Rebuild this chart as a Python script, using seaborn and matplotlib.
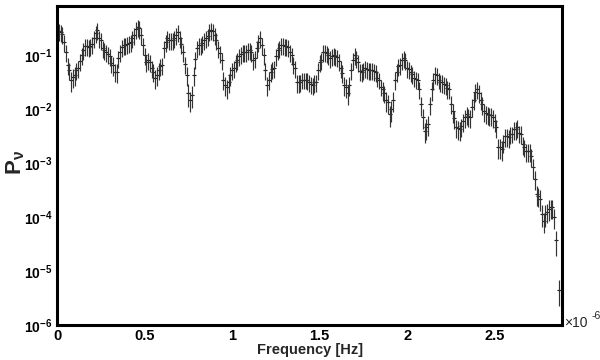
import numpy as np
import pandas as pd
import matplotlib
matplotlib.use("Agg")
import matplotlib.pyplot as plt
import seaborn as sns
from matplotlib.ticker import FuncFormatter, LogLocator, MultipleLocator, NullFormatter

# Frequency bins (units of 1e-6 Hz), odd-hundredth bins
freq_odd = [0.01, 0.03, 0.05, 0.07, 0.09, 0.11, 0.13, 0.15, 0.17, 0.19,
            0.21, 0.23, 0.25, 0.27, 0.29, 0.31, 0.33, 0.35, 0.37, 0.39,
            0.41, 0.43, 0.45, 0.47, 0.49, 0.51, 0.53, 0.55, 0.57, 0.59,
            0.61, 0.63, 0.65, 0.67, 0.69, 0.71, 0.73, 0.75, 0.77, 0.79,
            0.81, 0.83, 0.85, 0.87, 0.89, 0.91, 0.93, 0.95, 0.97, 0.99,
            1.01, 1.03, 1.05, 1.07, 1.09, 1.11, 1.13, 1.15, 1.17, 1.19,
            1.21, 1.23, 1.25, 1.27, 1.29, 1.31, 1.33, 1.35, 1.37, 1.39,
            1.41, 1.43, 1.45, 1.47, 1.49, 1.51, 1.53, 1.55, 1.57, 1.59,
            1.61, 1.63, 1.65, 1.67, 1.69, 1.71, 1.73, 1.75, 1.77, 1.79,
            1.81, 1.83, 1.85, 1.87, 1.89, 1.91, 1.93, 1.95, 1.97, 1.99,
            2.01, 2.03, 2.05, 2.07, 2.09, 2.11, 2.13, 2.15, 2.17, 2.19,
            2.21, 2.23, 2.25, 2.27, 2.29, 2.31, 2.33, 2.35, 2.37, 2.39,
            2.41, 2.43, 2.45, 2.47, 2.49, 2.51, 2.53, 2.55, 2.57, 2.59,
            2.61, 2.63, 2.65, 2.67, 2.69, 2.71, 2.73, 2.75, 2.77, 2.79,
            2.81, 2.83, 2.85, 2.87]

power_odd = [0.275, 0.243, 0.114, 0.053, 0.039, 0.053, 0.078, 0.124, 0.146, 0.146,
             0.205, 0.288, 0.188, 0.124, 0.104, 0.071, 0.049, 0.088, 0.140, 0.153,
             0.166, 0.205, 0.300, 0.310, 0.153, 0.074, 0.074, 0.049, 0.043, 0.063,
             0.134, 0.205, 0.188, 0.205, 0.264, 0.159, 0.068, 0.020, 0.0185, 0.085,
             0.153, 0.166, 0.205, 0.275, 0.275, 0.188, 0.109, 0.035, 0.025, 0.043,
             0.058, 0.081, 0.104, 0.114, 0.124, 0.114, 0.088, 0.173, 0.153, 0.053,
             0.035, 0.055, 0.096, 0.134, 0.153, 0.146, 0.114, 0.068, 0.031, 0.032,
             0.035, 0.034, 0.029, 0.031, 0.053, 0.081, 0.114, 0.100, 0.096, 0.096,
             0.078, 0.047, 0.026, 0.028, 0.081, 0.088, 0.051, 0.053, 0.055, 0.053,
             0.051, 0.038, 0.026, 0.020, 0.0132, 0.0098, 0.035, 0.063, 0.081, 0.081,
             0.055, 0.045, 0.036, 0.023, 0.0070, 0.0046, 0.0121, 0.034, 0.043, 0.032,
             0.029, 0.024, 0.0126, 0.0067, 0.0044, 0.0048, 0.0070, 0.0073, 0.0111, 0.021,
             0.020, 0.0121, 0.0083, 0.0076, 0.0070, 0.0046, 0.00197, 0.0024, 0.0031, 0.0034,
             0.0042, 0.0046, 0.0035, 0.00197, 0.00166, 0.00135, 0.00051, 0.00025, 0.000116, 0.000116,
             0.000143, 0.000150, 3.7e-5, 4.5e-6]

err_odd = [0.095, 0.085, 0.040, 0.019, 0.015, 0.019, 0.027, 0.043, 0.051, 0.051,
           0.072, 0.10, 0.066, 0.043, 0.036, 0.025, 0.018, 0.031, 0.049, 0.054,
           0.058, 0.072, 0.105, 0.11, 0.054, 0.026, 0.026, 0.018, 0.016, 0.022,
           0.047, 0.072, 0.066, 0.072, 0.092, 0.056, 0.024, 0.009, 0.008, 0.030,
           0.054, 0.058, 0.072, 0.096, 0.096, 0.066, 0.038, 0.013, 0.010, 0.016,
           0.020, 0.028, 0.036, 0.040, 0.043, 0.040, 0.031, 0.061, 0.054, 0.019,
           0.013, 0.019, 0.034, 0.047, 0.054, 0.051, 0.040, 0.024, 0.011, 0.011,
           0.012, 0.012, 0.010, 0.011, 0.019, 0.028, 0.040, 0.035, 0.034, 0.034,
           0.027, 0.017, 0.010, 0.011, 0.028, 0.031, 0.018, 0.019, 0.019, 0.019,
           0.018, 0.013, 0.009, 0.007, 0.005, 0.004, 0.013, 0.022, 0.028, 0.028,
           0.019, 0.016, 0.013, 0.008, 0.0028, 0.0019, 0.0045, 0.012, 0.015, 0.011,
           0.010, 0.0085, 0.0045, 0.0025, 0.0017, 0.0018, 0.0025, 0.0026, 0.0040, 0.0075,
           0.0072, 0.0044, 0.0030, 0.0027, 0.0025, 0.0017, 0.0008, 0.0009, 0.0011, 0.0012,
           0.0015, 0.0017, 0.0013, 0.0007, 0.0006, 0.0005, 0.0002, 0.0001, 0.00005, 0.00005,
           0.00006, 0.00006, 1.8e-5, 2.2e-6]

# Even-hundredth bins
freq_even = [0.02, 0.04, 0.06, 0.08, 0.10, 0.12, 0.14, 0.16, 0.18, 0.20,
             0.22, 0.24, 0.26, 0.28, 0.30, 0.32, 0.34, 0.36, 0.38, 0.40,
             0.42, 0.44, 0.46, 0.48, 0.50, 0.52, 0.54, 0.56, 0.58, 0.60,
             0.62, 0.64, 0.66, 0.68, 0.70, 0.72, 0.74, 0.76, 0.78, 0.80,
             0.82, 0.84, 0.86, 0.88, 0.90, 0.92, 0.94, 0.96, 0.98, 1.00,
             1.02, 1.04, 1.06, 1.08, 1.10, 1.12, 1.14, 1.16, 1.18, 1.20,
             1.22, 1.24, 1.26, 1.28, 1.30, 1.32, 1.34, 1.36, 1.38, 1.40,
             1.42, 1.44, 1.46, 1.48, 1.50, 1.52, 1.54, 1.56, 1.58, 1.60,
             1.62, 1.64, 1.66, 1.68, 1.70, 1.72, 1.74, 1.76, 1.78, 1.80,
             1.82, 1.84, 1.86, 1.88, 1.90, 1.92, 1.94, 1.96, 1.98, 2.00,
             2.02, 2.04, 2.06, 2.08, 2.10, 2.12, 2.14, 2.16, 2.18, 2.20,
             2.22, 2.24, 2.26, 2.28, 2.30, 2.32, 2.34, 2.36, 2.38, 2.40,
             2.42, 2.44, 2.46, 2.48, 2.50, 2.52, 2.54, 2.56, 2.58, 2.60,
             2.62, 2.64, 2.66, 2.68, 2.70, 2.72, 2.74, 2.76, 2.78, 2.80,
             2.82, 2.84]

power_even = [0.264, 0.173, 0.066, 0.035, 0.043, 0.058, 0.100, 0.146, 0.140, 0.159,
              0.253, 0.205, 0.134, 0.114, 0.096, 0.066, 0.049, 0.114, 0.153, 0.159,
              0.173, 0.233, 0.327, 0.233, 0.100, 0.081, 0.058, 0.038, 0.053, 0.066,
              0.173, 0.188, 0.188, 0.233, 0.205, 0.114, 0.043, 0.0149, 0.043, 0.134,
              0.153, 0.188, 0.223, 0.288, 0.233, 0.134, 0.081, 0.028, 0.032, 0.053,
              0.074, 0.096, 0.114, 0.114, 0.124, 0.081, 0.134, 0.205, 0.100, 0.028,
              0.049, 0.058, 0.124, 0.153, 0.146, 0.140, 0.100, 0.058, 0.031, 0.035,
              0.035, 0.032, 0.028, 0.032, 0.074, 0.114, 0.109, 0.088, 0.100, 0.092,
              0.058, 0.028, 0.020, 0.053, 0.100, 0.074, 0.049, 0.058, 0.053, 0.053,
              0.049, 0.035, 0.023, 0.0149, 0.0079, 0.0149, 0.049, 0.066, 0.088, 0.058,
              0.049, 0.038, 0.035, 0.0121, 0.0039, 0.0052, 0.023, 0.045, 0.035, 0.031,
              0.028, 0.023, 0.0090, 0.0046, 0.0042, 0.0059, 0.0079, 0.0070, 0.0149, 0.023,
              0.0149, 0.0090, 0.0079, 0.0076, 0.0059, 0.00197, 0.00181, 0.0031, 0.0030, 0.0035,
              0.0042, 0.0036, 0.0022, 0.00166, 0.00166, 0.00085, 0.00027, 0.00022, 8.6e-5, 0.000126,
              0.000150, 0.000100]

err_even = [0.092, 0.060, 0.023, 0.014, 0.016, 0.020, 0.035, 0.051, 0.049, 0.056,
            0.089, 0.072, 0.047, 0.040, 0.034, 0.025, 0.019, 0.040, 0.054, 0.056,
            0.061, 0.082, 0.115, 0.082, 0.035, 0.028, 0.020, 0.015, 0.019, 0.023,
            0.061, 0.066, 0.066, 0.082, 0.072, 0.040, 0.016, 0.006, 0.016, 0.047,
            0.054, 0.066, 0.078, 0.10, 0.082, 0.047, 0.028, 0.011, 0.012, 0.019,
            0.026, 0.034, 0.040, 0.040, 0.043, 0.028, 0.047, 0.072, 0.035, 0.011,
            0.018, 0.020, 0.043, 0.054, 0.051, 0.049, 0.035, 0.020, 0.011, 0.012,
            0.012, 0.011, 0.010, 0.011, 0.026, 0.040, 0.038, 0.031, 0.035, 0.032,
            0.020, 0.011, 0.008, 0.019, 0.035, 0.026, 0.018, 0.020, 0.019, 0.019,
            0.017, 0.012, 0.009, 0.006, 0.0033, 0.006, 0.018, 0.023, 0.031, 0.020,
            0.017, 0.013, 0.012, 0.0048, 0.0016, 0.0021, 0.009, 0.016, 0.012, 0.011,
            0.010, 0.008, 0.0034, 0.0017, 0.0016, 0.0022, 0.0028, 0.0025, 0.0055, 0.008,
            0.0055, 0.0033, 0.0028, 0.0027, 0.0022, 0.0008, 0.0007, 0.0011, 0.0011, 0.0012,
            0.0015, 0.0013, 0.0008, 0.0006, 0.0006, 0.00035, 0.00011, 0.00009, 3.5e-5, 5e-5,
            0.00006, 0.00004]

bin_half_width = 0.005

df = pd.DataFrame({"freq": freq_odd + freq_even,
                   "power": power_odd + power_even,
                   "err": err_odd + err_even}).sort_values("freq")

sns.set_theme(style="white")
plt.rcParams['font.family'] = ['Liberation Sans', 'DejaVu Sans']
plt.rcParams['mathtext.fontset'] = 'custom'
plt.rcParams['mathtext.rm'] = 'Liberation Sans:bold'
plt.rcParams['mathtext.it'] = 'Liberation Sans:bold:italic'
plt.rcParams['mathtext.bf'] = 'Liberation Sans:bold'

fig = plt.figure(figsize=(6, 3.6), dpi=100)
ax = fig.add_axes([0.095, 0.097, 0.842, 0.886])

ax.errorbar(df["freq"], df["power"], yerr=df["err"], xerr=bin_half_width,
            fmt='none', ecolor='#333333', elinewidth=0.85, capsize=0)
sns.scatterplot(data=df, x="freq", y="power", ax=ax, marker='_', s=6,
                color='#111111', linewidth=0.8, legend=False)

ax.set_yscale('log')
ax.set_xlim(0, 2.886)
ax.set_ylim(1e-6, 0.8)
ax.set_xlabel("")
ax.set_ylabel("")

ax.xaxis.set_major_locator(MultipleLocator(0.5))
ax.xaxis.set_minor_locator(MultipleLocator(0.1))
ax.xaxis.set_major_formatter(FuncFormatter(lambda v, p: "%g" % v))
ax.yaxis.set_major_locator(LogLocator(base=10, numticks=20))
ax.yaxis.set_minor_locator(LogLocator(base=10, subs=np.arange(2, 10), numticks=100))
ax.yaxis.set_minor_formatter(NullFormatter())
ax.yaxis.set_major_formatter(FuncFormatter(
    lambda v, p: r"$\mathrm{10^{%d}}$" % int(round(np.log10(v)))))

ax.tick_params(axis='both', which='both', direction='in', top=False, right=False,
               colors='black', labelcolor='black')
ax.tick_params(axis='y', which='major', length=9.5, width=1, labelsize=10, pad=3)
ax.tick_params(axis='y', which='minor', length=5, width=0.9)
ax.tick_params(axis='x', which='major', length=6.5, width=1, labelsize=10.5, pad=3)
ax.tick_params(axis='x', which='minor', length=3.5, width=0.9)
for lab in ax.get_xticklabels():
    lab.set_fontweight('bold')

for sp in ax.spines.values():
    sp.set_visible(True)
    sp.set_color('black')
    sp.set_linewidth(2.2)

fig.text(0.516, 1 - 350 / 360, "Frequency [Hz]", ha='center', va='center',
         fontsize=10.5, fontweight='bold')
fig.text(0.026, 1 - 163 / 360, r"$\mathrm{P_{\nu}}$", ha='center', va='center',
         rotation=90, fontsize=16)
fig.text(0.940, 1 - 323 / 360, "×10", ha='left', va='center', fontsize=10)
fig.text(0.986, 1 - 316 / 360, "-6", ha='left', va='center', fontsize=7.5)

fig.savefig("out.png", dpi=100)
